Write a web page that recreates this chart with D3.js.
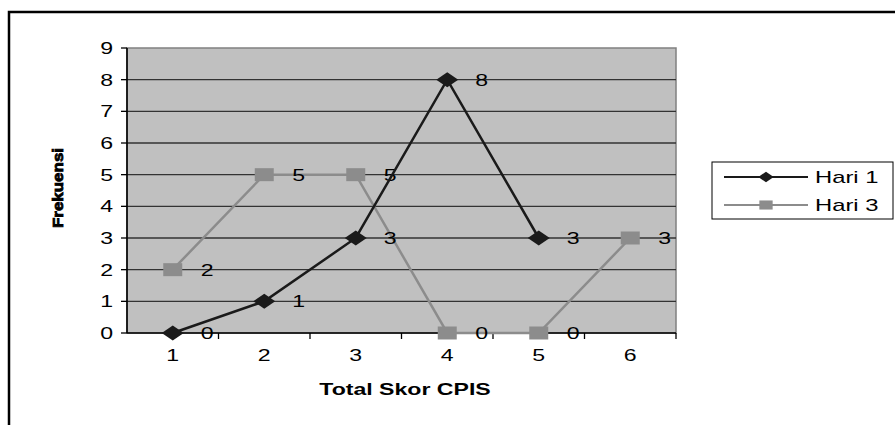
<!DOCTYPE html>
<html>
<head>
<meta charset="utf-8">
<script src="https://cdn.jsdelivr.net/npm/d3@7"></script>
<style>
  body { margin: 0; background: #fff; }
  text { font-family: "Liberation Sans", Arial, sans-serif; }
</style>
</head>
<body>
<svg></svg>
<script>
var width = 895;
var height = 425;

var categories = [1, 2, 3, 4, 5, 6];
var hari1 = [0, 1, 3, 8, 3, null];
var hari3 = [2, 5, 5, 0, 0, 3];
var yTicks = [0, 1, 2, 3, 4, 5, 6, 7, 8, 9];
var seriesNames = ["Hari 1", "Hari 3"];

var sx = 1.4; // the picture is stretched sideways

var svg = d3.select("svg")
    .attr("width", width)
    .attr("height", height);

// outer frame
svg.append("rect")
    .attr("x", 9).attr("y", 12)
    .attr("width", 920).attr("height", 440)
    .attr("fill", "none")
    .attr("stroke", "#000")
    .attr("stroke-width", 2.5);

var x = d3.scaleBand().domain(categories).range([127, 676]);
var y = d3.scaleLinear().domain([0, 9]).range([333, 48]);

function stretched(g, px, py, str) {
  return g.append("text")
      .attr("transform", `translate(${px},${py}) scale(${sx},1)`)
      .text(str);
}

// plot area
svg.append("rect")
    .attr("x", x.range()[0]).attr("y", y(9))
    .attr("width", x.range()[1] - x.range()[0])
    .attr("height", y(0) - y(9))
    .attr("fill", "#c0c0c0")
    .attr("stroke", "#808080")
    .attr("stroke-width", 1.5);

// gridlines
svg.append("g")
  .selectAll("line")
  .data(yTicks.filter(d => d > 0 && d < 9))
  .enter()
  .append("line")
    .attr("x1", x.range()[0]).attr("x2", x.range()[1])
    .attr("y1", d => y(d)).attr("y2", d => y(d))
    .attr("stroke", "#333")
    .attr("stroke-width", 1.4);

// y axis
var yAxis = svg.append("g");
yAxis.append("line")
    .attr("x1", 127).attr("x2", 127)
    .attr("y1", y(9)).attr("y2", y(0))
    .attr("stroke", "#000").attr("stroke-width", 1.6);
yTicks.forEach(function(t) {
  yAxis.append("line")
      .attr("x1", 121).attr("x2", 127)
      .attr("y1", y(t)).attr("y2", y(t))
      .attr("stroke", "#000").attr("stroke-width", 1.3);
  stretched(yAxis, 113, y(t) + 6, t)
      .attr("text-anchor", "end")
      .attr("font-size", 16.5);
});

// x axis
var xAxis = svg.append("g");
xAxis.append("line")
    .attr("x1", x.range()[0]).attr("x2", x.range()[1])
    .attr("y1", y(0)).attr("y2", y(0))
    .attr("stroke", "#000").attr("stroke-width", 1.6);
categories.forEach(function(c) {
  var right = x(c) + x.bandwidth();
  xAxis.append("line")
      .attr("x1", right).attr("x2", right)
      .attr("y1", y(0)).attr("y2", y(0) + 6)
      .attr("stroke", "#000").attr("stroke-width", 1.3);
  stretched(xAxis, x(c) + x.bandwidth() / 2, 361, c)
      .attr("text-anchor", "middle")
      .attr("font-size", 16.5);
});

stretched(svg, 405, 395, "Total Skor CPIS")
    .attr("text-anchor", "middle")
    .attr("font-size", 16.5)
    .attr("font-weight", "bold");

svg.append("text")
    .attr("transform", `translate(63,188) scale(${sx},1) rotate(-90)`)
    .attr("text-anchor", "middle")
    .attr("font-size", 11)
    .attr("font-weight", "bold")
    .attr("textLength", 80)
    .attr("lengthAdjust", "spacingAndGlyphs")
    .attr("stroke", "#000")
    .attr("stroke-width", 0.6)
    .text("Frekuensi");

// markers
var diamond = "M-11,0L0,-7.5L11,0L0,7.5Z";
var square = "M-9.5,-6.5H9.5V6.5H-9.5Z";

var series = [
  { name: seriesNames[1], values: hari3, color: "#8c8c8c", marker: square },
  { name: seriesNames[0], values: hari1, color: "#1a1a1a", marker: diamond }
];

var line = d3.line()
    .defined(d => d.v != null)
    .x(d => x(d.c) + x.bandwidth() / 2)
    .y(d => y(d.v));

series.forEach(function(s) {
  var pts = categories.map((c, i) => ({ c: c, v: s.values[i] }));
  var g = svg.append("g");
  g.append("path")
      .attr("d", line(pts))
      .attr("fill", "none")
      .attr("stroke", s.color)
      .attr("stroke-width", 2.5);
  var valid = pts.filter(d => d.v != null);
  g.selectAll(".mk")
    .data(valid)
    .enter()
    .append("path")
      .attr("transform", d => `translate(${x(d.c) + x.bandwidth() / 2},${y(d.v)})`)
      .attr("d", s.marker)
      .attr("fill", s.color);
  valid.forEach(function(d) {
    stretched(g, x(d.c) + x.bandwidth() / 2 + 28, y(d.v) + 6, d.v)
        .attr("font-size", 16.5);
  });
});

// legend
var legend = svg.append("g");
legend.append("rect")
    .attr("x", 712).attr("y", 162)
    .attr("width", 181).attr("height", 57)
    .attr("fill", "#fff")
    .attr("stroke", "#000")
    .attr("stroke-width", 1);

[series[1], series[0]].forEach(function(s, i) {
  var ly = 177 + i * 28;
  legend.append("line")
      .attr("x1", 724).attr("x2", 808)
      .attr("y1", ly).attr("y2", ly)
      .attr("stroke", s.color)
      .attr("stroke-width", 2);
  legend.append("path")
      .attr("transform", `translate(766,${ly}) scale(0.7)`)
      .attr("d", s.marker)
      .attr("fill", s.color);
  stretched(legend, 815, ly + 6, s.name)
      .attr("font-size", 17);
});
</script>
</body>
</html>
